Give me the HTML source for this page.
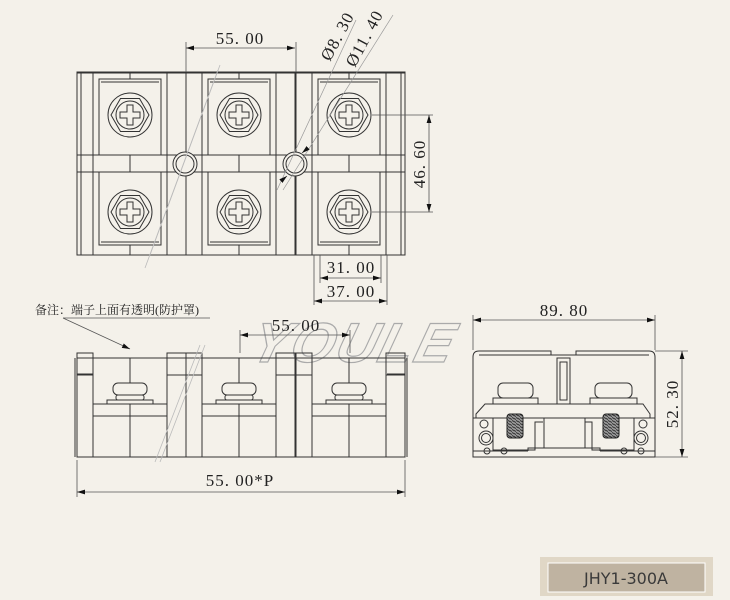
<!DOCTYPE html>
<html><head><meta charset="utf-8"><style>
html,body{margin:0;padding:0;background:#f4f1ea;}
svg{display:block}
.l{stroke:#333;stroke-width:1;fill:none}
.f{stroke:#333;stroke-width:1;fill:#f4f1ea}
.d{stroke:#555;stroke-width:0.8;fill:none}
.t{font-family:"Liberation Serif",serif;font-size:17px;fill:#222;letter-spacing:1px}
</style></head><body>
<svg width="730" height="600" viewBox="0 0 730 600" xmlns="http://www.w3.org/2000/svg">
<defs>
<marker id="a" viewBox="0 0 10 6" refX="10" refY="3" markerWidth="10" markerHeight="6" orient="auto-start-reverse"><path d="M0,0L10,3L0,6z" fill="#111"/></marker>
<pattern id="th" width="4" height="3" patternUnits="userSpaceOnUse"><rect width="4" height="3" fill="#999"/><line x1="0" y1="0.5" x2="4" y2="2.5" stroke="#222" stroke-width="0.8"/></pattern>
<g id="scr">
<circle r="22" class="l"/><polygon points="19,0 9.5,16.5 -9.5,16.5 -19,0 -9.5,-16.5 9.5,-16.5" class="l"/><circle r="14" class="l"/>
<path d="M-3,-10H3V-3H10V3H3V10H-3V3H-10V-3H-3Z" class="l"/>
</g>
<g id="mod">
<rect x="0" y="0" width="109" height="182" class="l"/>
<line x1="16" y1="0" x2="16" y2="182" class="l"/><line x1="90" y1="0" x2="90" y2="182" class="l"/>
<rect x="22" y="6" width="62" height="76" class="l"/><line x1="24" y1="9" x2="82" y2="9" class="l"/>
<rect x="22" y="99" width="62" height="73" class="l"/><line x1="24" y1="169" x2="82" y2="169" class="l"/>
<line x1="16" y1="82" x2="90" y2="82" class="l"/><line x1="16" y1="99" x2="90" y2="99" class="l"/>
<line x1="53" y1="0" x2="53" y2="6" class="l"/><line x1="53" y1="82" x2="53" y2="99" class="l"/><line x1="53" y1="172" x2="53" y2="182" class="l"/>
<line x1="0" y1="82" x2="16" y2="82" class="l"/><line x1="0" y1="99" x2="16" y2="99" class="l"/>
<line x1="90" y1="82" x2="109" y2="82" class="l"/><line x1="90" y1="99" x2="109" y2="99" class="l"/>
<use href="#scr" x="53" y="42"/><use href="#scr" x="53" y="139"/>
</g>
<g id="fm">
<rect x="0" y="5" width="109" height="99" class="l"/>
<rect x="0" y="0" width="16" height="22" class="l"/><rect x="90" y="0" width="19" height="22" class="l"/>
<line x1="16" y1="5" x2="16" y2="104" class="l"/><line x1="90" y1="5" x2="90" y2="104" class="l"/>
<line x1="53" y1="5" x2="53" y2="104" class="l"/>
<line x1="16" y1="51" x2="90" y2="51" class="l"/><line x1="16" y1="63" x2="90" y2="63" class="l"/>
<rect x="36" y="30" width="34" height="12" rx="5" class="f"/>
<rect x="39" y="42" width="28" height="5" rx="2" class="f"/>
<rect x="30" y="47" width="46" height="4" class="f"/>
</g>
</defs>

<!-- top view -->
<rect x="77" y="72" width="328" height="183" class="l"/>
<use href="#mod" x="77" y="73"/><use href="#mod" x="186" y="73"/><use href="#mod" x="296" y="73"/>
<line x1="81" y1="72" x2="81" y2="255" class="l"/><line x1="401" y1="72" x2="401" y2="255" class="l"/>
<circle cx="185" cy="164" r="12" class="f"/><circle cx="185" cy="164" r="9" class="l"/>
<circle cx="295" cy="164" r="12" class="f"/><circle cx="295" cy="164" r="9" class="l"/>
<line x1="150" y1="255" x2="220" y2="65" stroke="#bbb" stroke-width="0.8"/>
<line x1="145" y1="268" x2="218" y2="70" stroke="#bbb" stroke-width="0.8"/>
<line x1="277" y1="190" x2="356" y2="20" stroke="#999" stroke-width="0.7"/>
<line x1="283" y1="190" x2="393" y2="15" stroke="#999" stroke-width="0.7"/>
<line x1="281" y1="181" x2="287" y2="176" class="d" marker-end="url(#a)"/>
<line x1="308" y1="148" x2="302" y2="153" class="d" marker-end="url(#a)"/>
<!-- dims top -->
<line x1="186" y1="42" x2="186" y2="72" class="d"/><line x1="296" y1="42" x2="296" y2="72" class="d"/>
<line x1="186" y1="48" x2="295" y2="48" class="d" marker-start="url(#a)" marker-end="url(#a)"/>
<text x="240" y="44" text-anchor="middle" class="t">55. 00</text>
<text transform="translate(330,62) rotate(-62)" class="t">Ø8. 30</text>
<text transform="translate(355,68) rotate(-62)" class="t">Ø11. 40</text>
<line x1="372" y1="115" x2="433" y2="115" class="d"/><line x1="372" y1="212" x2="433" y2="212" class="d"/>
<line x1="429" y1="115" x2="429" y2="212" class="d" marker-start="url(#a)" marker-end="url(#a)"/>
<text transform="translate(425,164) rotate(-90)" text-anchor="middle" class="t">46. 60</text>
<line x1="320" y1="255" x2="320" y2="283" class="d"/><line x1="381" y1="255" x2="381" y2="283" class="d"/>
<line x1="314" y1="255" x2="314" y2="305" class="d"/><line x1="387" y1="255" x2="387" y2="305" class="d"/>
<line x1="320" y1="278" x2="381" y2="278" class="d" marker-start="url(#a)" marker-end="url(#a)"/>
<text x="351" y="273" text-anchor="middle" class="t">31. 00</text>
<line x1="314" y1="301" x2="387" y2="301" class="d" marker-start="url(#a)" marker-end="url(#a)"/>
<text x="351" y="297" text-anchor="middle" class="t">37. 00</text>

<!-- note -->
<text x="35" y="314" font-family="'Liberation Serif','Noto Serif CJK SC',serif" font-size="12" fill="#222">备注：端子上面有透明(防护罩)</text>
<line x1="63" y1="318" x2="210" y2="318" class="d"/>
<line x1="63" y1="318" x2="130" y2="349" class="d" marker-end="url(#a)"/>

<!-- watermark -->
<text x="250" y="362" font-family="'Liberation Sans',sans-serif" font-style="italic" font-weight="bold" font-size="56" fill="none" stroke="#aaa" stroke-width="1.2" letter-spacing="2" transform="skewX(-15) translate(95,0)">YOULE</text>

<!-- front view -->
<use href="#fm" x="77" y="353"/><use href="#fm" x="186" y="353"/><use href="#fm" x="296" y="353"/>
<line x1="77" y1="374" x2="93" y2="374" class="l"/><line x1="387" y1="374" x2="405" y2="374" class="l"/>
<line x1="75" y1="358" x2="75" y2="457" class="l"/><line x1="407" y1="358" x2="407" y2="457" class="l"/>
<line x1="155" y1="462" x2="200" y2="345" stroke="#bbb" stroke-width="0.8"/>
<line x1="160" y1="462" x2="205" y2="345" stroke="#bbb" stroke-width="0.8"/>
<line x1="240" y1="330" x2="240" y2="353" class="d"/><line x1="350" y1="330" x2="350" y2="353" class="d"/>
<line x1="240" y1="335" x2="350" y2="335" class="d" marker-start="url(#a)" marker-end="url(#a)"/>
<text x="296" y="331" text-anchor="middle" class="t">55. 00</text>
<line x1="77" y1="460" x2="77" y2="497" class="d"/><line x1="405" y1="460" x2="405" y2="497" class="d"/>
<line x1="77" y1="492" x2="405" y2="492" class="d" marker-start="url(#a)" marker-end="url(#a)"/>
<text x="240" y="486" text-anchor="middle" class="t">55. 00*P</text>

<!-- side view -->
<path d="M473,357 Q473,351 479,351 H551 V355 H576 V351 H649 Q655,351 655,357 V457 H473 Z" class="l"/>
<line x1="479" y1="355" x2="649" y2="355" class="l"/>
<rect x="557" y="358" width="13" height="46" class="l"/><rect x="560" y="362" width="7" height="38" class="l"/>
<rect x="498" y="383" width="35" height="15" rx="5" class="l"/><rect x="595" y="383" width="37" height="15" rx="5" class="l"/>
<rect x="493" y="398" width="45" height="6" class="l"/><rect x="590" y="398" width="47" height="6" class="l"/>
<path d="M485,404 H643 L650,414 V418 H476 V414 Z" class="l"/>
<line x1="473" y1="418" x2="655" y2="418" class="l"/>
<rect x="507" y="414" width="16" height="24" rx="3" fill="url(#th)" stroke="#222"/>
<rect x="603" y="414" width="16" height="24" rx="3" fill="url(#th)" stroke="#222"/>
<path d="M493,418 V450 H535 V422 H543" class="l"/><path d="M634,418 V450 H592 V422 H585" class="l"/>
<rect x="544" y="418" width="41" height="30" class="l"/>
<line x1="473" y1="451" x2="528" y2="451" class="l"/><line x1="600" y1="451" x2="655" y2="451" class="l"/>
<path d="M528,451 V448 H600 V451" class="l"/>
<circle cx="484" cy="424" r="4" class="l"/><circle cx="643" cy="424" r="4" class="l"/>
<circle cx="486" cy="438" r="7" class="l"/><circle cx="486" cy="438" r="4.5" class="l"/>
<circle cx="641" cy="438" r="7" class="l"/><circle cx="641" cy="438" r="4.5" class="l"/>
<circle cx="487" cy="451" r="3" class="l"/><circle cx="504" cy="451" r="3" class="l"/>
<circle cx="624" cy="451" r="3" class="l"/><circle cx="641" cy="451" r="3" class="l"/>
<line x1="473" y1="315" x2="473" y2="350" class="d"/><line x1="655" y1="315" x2="655" y2="350" class="d"/>
<line x1="473" y1="320" x2="655" y2="320" class="d" marker-start="url(#a)" marker-end="url(#a)"/>
<text x="564" y="316" text-anchor="middle" class="t">89. 80</text>
<line x1="655" y1="351" x2="688" y2="351" class="d"/><line x1="655" y1="457" x2="688" y2="457" class="d"/>
<line x1="682" y1="351" x2="682" y2="457" class="d" marker-start="url(#a)" marker-end="url(#a)"/>
<text transform="translate(678,404) rotate(-90)" text-anchor="middle" class="t" font-size="14">52. 30</text>

<!-- label -->
<rect x="540" y="557" width="173" height="39" fill="#e0d7c6"/>
<rect x="548" y="563" width="157" height="29" fill="#bfb3a1" stroke="#fff" stroke-width="1"/>
<text x="626" y="584" text-anchor="middle" font-family="'DejaVu Sans',sans-serif" font-size="16" fill="#3a3a3a">JHY1-300A</text>
</svg>
</body></html>
